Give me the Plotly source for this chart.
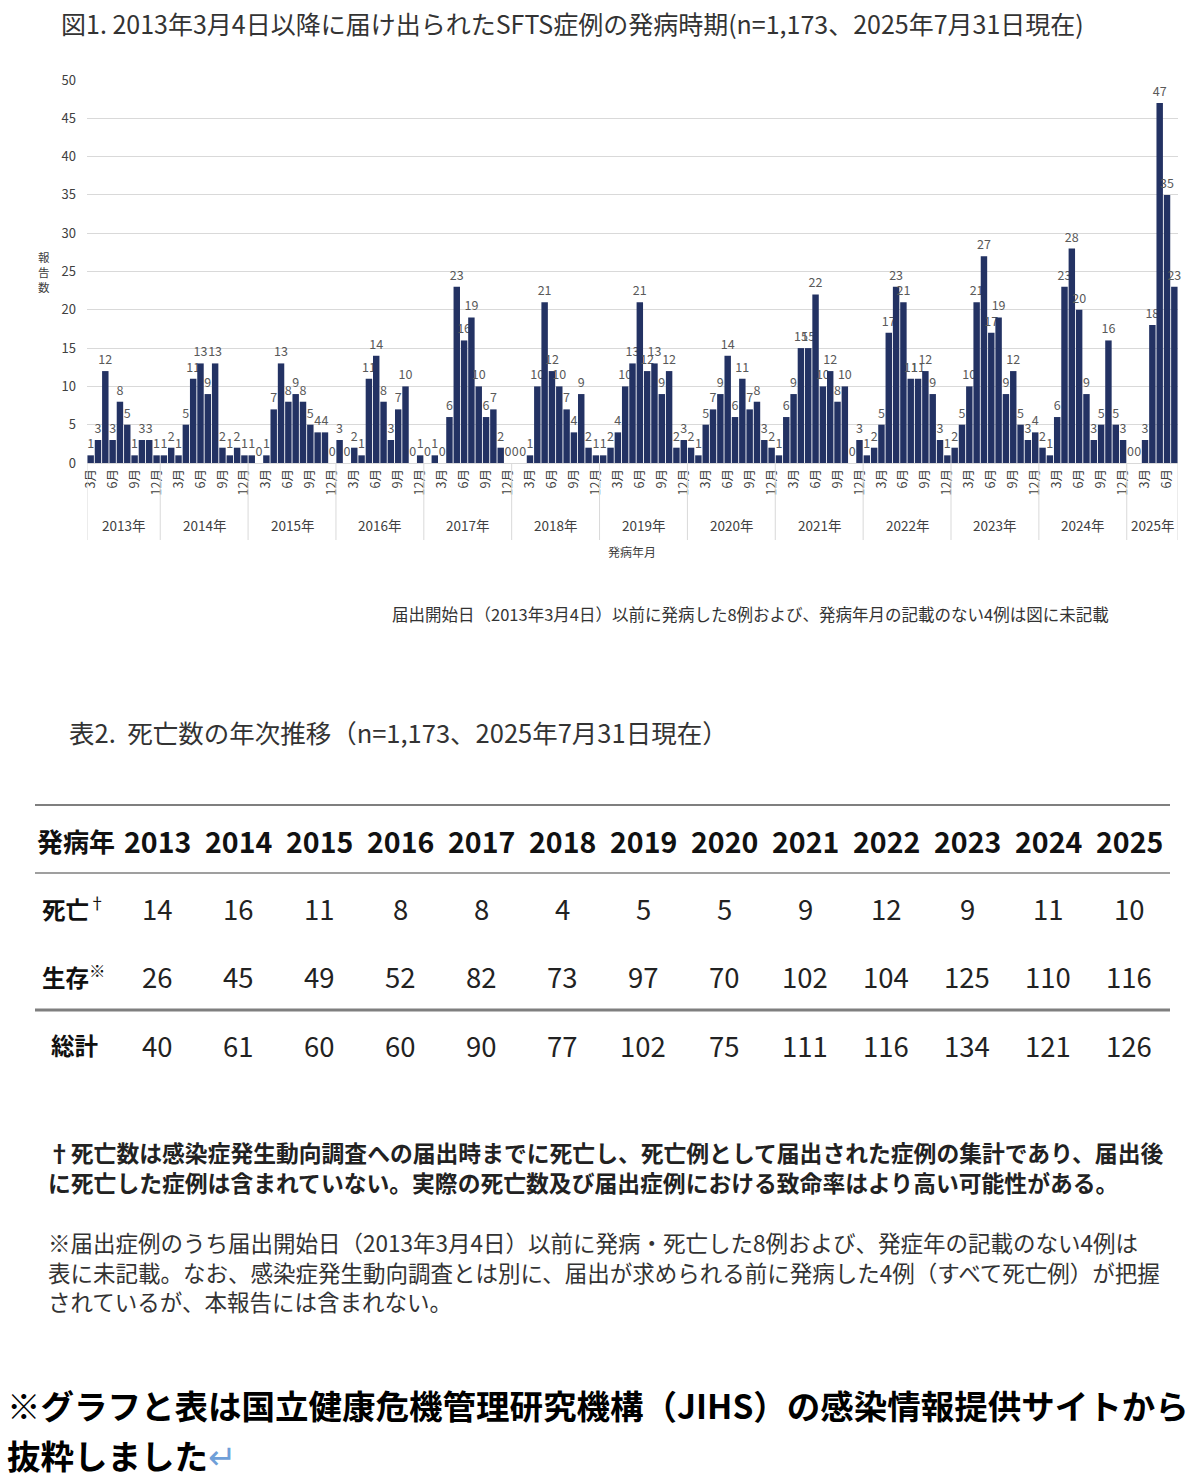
import plotly.graph_objects as go

W, H = 1198, 1478
FONT = "Noto Sans CJK JP"

# ---- monthly onset counts (2013 starts in March, 2025 ends in July) ----
years = [2013, 2014, 2015, 2016, 2017, 2018, 2019, 2020, 2021, 2022, 2023, 2024, 2025]
first_month = {2013: 3}
c2013 = [1, 3, 12, 3, 8, 5, 1, 3, 3, 1]
c2014 = [1, 2, 1, 5, 11, 13, 9, 13, 2, 1, 2, 1]
c2015 = [1, 0, 1, 7, 13, 8, 9, 8, 5, 4, 4, 0]
c2016 = [3, 0, 2, 1, 11, 14, 8, 3, 7, 10, 0, 1]
c2017 = [0, 1, 0, 6, 23, 16, 19, 10, 6, 7, 2, 0]
c2018 = [0, 0, 1, 10, 21, 12, 10, 7, 4, 9, 2, 1]
c2019 = [1, 2, 4, 10, 13, 21, 12, 13, 9, 12, 2, 3]
c2020 = [2, 1, 5, 7, 9, 14, 6, 11, 7, 8, 3, 2]
c2021 = [1, 6, 9, 15, 15, 22, 10, 12, 8, 10, 0, 3]
c2022 = [1, 2, 5, 17, 23, 21, 11, 11, 12, 9, 3, 1]
c2023 = [2, 5, 10, 21, 27, 17, 19, 9, 12, 5, 3, 4]
c2024 = [2, 1, 6, 23, 28, 20, 9, 3, 5, 16, 5, 3]
c2025 = [0, 0, 3, 18, 47, 35, 23]
monthly = [c2013, c2014, c2015, c2016, c2017, c2018, c2019, c2020,
           c2021, c2022, c2023, c2024, c2025]
tick_months = [3, 6, 9, 12]

# ---- table 2 ----
deaths = [14, 16, 11, 8, 8, 4, 5, 5, 9, 12, 9, 11, 10]
alive = [26, 45, 49, 52, 82, 73, 97, 70, 102, 104, 125, 110, 116]
totals = [40, 61, 60, 60, 90, 77, 102, 75, 111, 116, 134, 121, 126]

# build x positions
xs, ys, tickvals, ticktext = [], [], [], []
bounds = [-0.5]
centers = []
idx = 0
for yr, vals in zip(years, monthly):
    m0 = first_month.get(yr, 1)
    start = idx
    for k, v in enumerate(vals):
        m = m0 + k
        xs.append(idx)
        ys.append(v)
        if m in tick_months:
            tickvals.append(idx)
            ticktext.append(f"{m}月")
        idx += 1
    bounds.append(idx - 0.5)
    centers.append((start + idx - 1) / 2)


def px(x):
    return x / W


def py(y):
    return 1 - y / H


def ann(x, y, text, size, color="#333333", xanchor="center", bold=False, xref="paper"):
    return dict(x=x, y=y, xref=xref, yref="paper", text=f"<b>{text}</b>" if bold else text,
                showarrow=False, xanchor=xanchor, yanchor="middle",
                font=dict(family=FONT, size=size, color=color))


fig = go.Figure()
fig.add_trace(go.Bar(
    x=xs, y=ys, text=[str(v) for v in ys], textposition="outside",
    textfont=dict(family=FONT, size=12.5, color="#595959"),
    marker=dict(color="#233263", line=dict(width=0)),
    cliponaxis=False, constraintext="none", hoverinfo="x+y",
))

shapes = []
annotations = []

# year separators below axis
for b in bounds:
    shapes.append(dict(type="line", xref="x", yref="paper", x0=b, x1=b,
                       y0=py(463), y1=py(540), line=dict(color="#d9d9d9", width=1)))
for c, yr in zip(centers, years):
    annotations.append(ann(c, py(525), f"{yr}年", 13.5, "#404040", xref="x"))

annotations += [
    ann(px(632), py(552), "発病年月", 12, "#404040"),
    dict(x=px(44), y=py(272), xref="paper", yref="paper", text="報<br>告<br>数", showarrow=False,
         xanchor="center", yanchor="middle",
         font=dict(family=FONT, size=11.5, color="#404040"), align="center"),
    ann(px(59), py(23), "図1. 2013年3月4日以降に届け出られたSFTS症例の発病時期(n=1,173、2025年7月31日現在)",
        25, "#333333", "left"),
    ann(px(390), py(614), "届出開始日（2013年3月4日）以前に発病した8例および、発病年月の記載のない4例は図に未記載",
        16.5, "#333333", "left"),
    ann(px(67), py(731), "表2.  死亡数の年次推移（n=1,173、2025年7月31日現在）", 25.5, "#333333", "left"),
]

# table
colx = [157 + 81 * k for k in range(len(years))]
row_y = {"head": 840, "d": 908, "a": 976, "t": 1045}
annotations.append(ann(px(76), py(row_y["head"]), "発病年", 26, "#111111", bold=True))
for x, yr in zip(colx, years):
    annotations.append(ann(px(x), py(row_y["head"]), str(yr), 28.5, "#111111", bold=True))
row_labels = [("d", "<b>死亡</b><sup>†</sup>", deaths, 40),
              ("a", "<b>生存</b><sup>※</sup>", alive, 40),
              ("t", "<b>総計</b>", totals, 49)]
for key, lab, vals, lx in row_labels:
    annotations.append(ann(px(lx), py(row_y[key]), lab, 23.5, "#111111", "left"))
    for x, v in zip(colx, vals):
        annotations.append(ann(px(x), py(row_y[key]), str(v), 27.5, "#222222"))
for yline, wdt in [(805, 2), (873, 1.5), (1010, 3)]:
    shapes.append(dict(type="line", xref="paper", yref="paper", x0=px(35), x1=px(1170),
                       y0=py(yline), y1=py(yline), line=dict(color="#7f7f7f", width=wdt)))

notes_bold = ["†死亡数は感染症発生動向調査への届出時までに死亡し、死亡例として届出された症例の集計であり、届出後",
              "に死亡した症例は含まれていない。実際の死亡数及び届出症例における致命率はより高い可能性がある。"]
for t, yy in zip(notes_bold, [1152, 1182]):
    annotations.append(ann(px(46), py(yy), t, 22.8, "#222222", "left", bold=True))
notes = ["※届出症例のうち届出開始日（2013年3月4日）以前に発病・死亡した8例および、発症年の記載のない4例は",
         "表に未記載。なお、感染症発生動向調査とは別に、届出が求められる前に発病した4例（すべて死亡例）が把握",
         "されているが、本報告には含まれない。"]
for t, yy in zip(notes, [1242, 1272, 1301]):
    annotations.append(ann(px(46), py(yy), t, 22.5, "#333333", "left"))
annotations.append(ann(px(5), py(1404), "※グラフと表は国立健康危機管理研究機構（JIHS）の感染情報提供サイトから",
                       33.5, "#000000", "left", bold=True))
annotations.append(ann(px(5), py(1454), "<b>抜粋しました</b><span style='color:#6f9fd8'>↵</span>",
                       33.5, "#000000", "left"))

fig.update_layout(
    width=W, height=H, margin=dict(l=0, r=0, t=0, b=0, pad=0, autoexpand=False),
    paper_bgcolor="white", plot_bgcolor="white", showlegend=False,
    bargap=0.12, shapes=shapes, annotations=annotations,
    xaxis=dict(domain=[px(87), px(1178)], range=[-0.5, idx - 0.5], tickvals=tickvals,
               ticktext=ticktext, tickangle=-90, showgrid=False, zeroline=False,
               showline=True, linecolor="#d9d9d9", ticks="", automargin=False,
               tickfont=dict(family=FONT, size=12.5, color="#404040")),
    yaxis=dict(domain=[py(463), py(80)], range=[0, 50], dtick=5, showgrid=True,
               gridcolor="#d9d9d9", zeroline=False, showline=False, ticks="",
               ticklabelstandoff=10, automargin=False,
               tickfont=dict(family=FONT, size=13, color="#404040")),
)
fig.write_html("out.html", config={"displayModeBar": False},
               post_script="document.body.style.margin='0';")
